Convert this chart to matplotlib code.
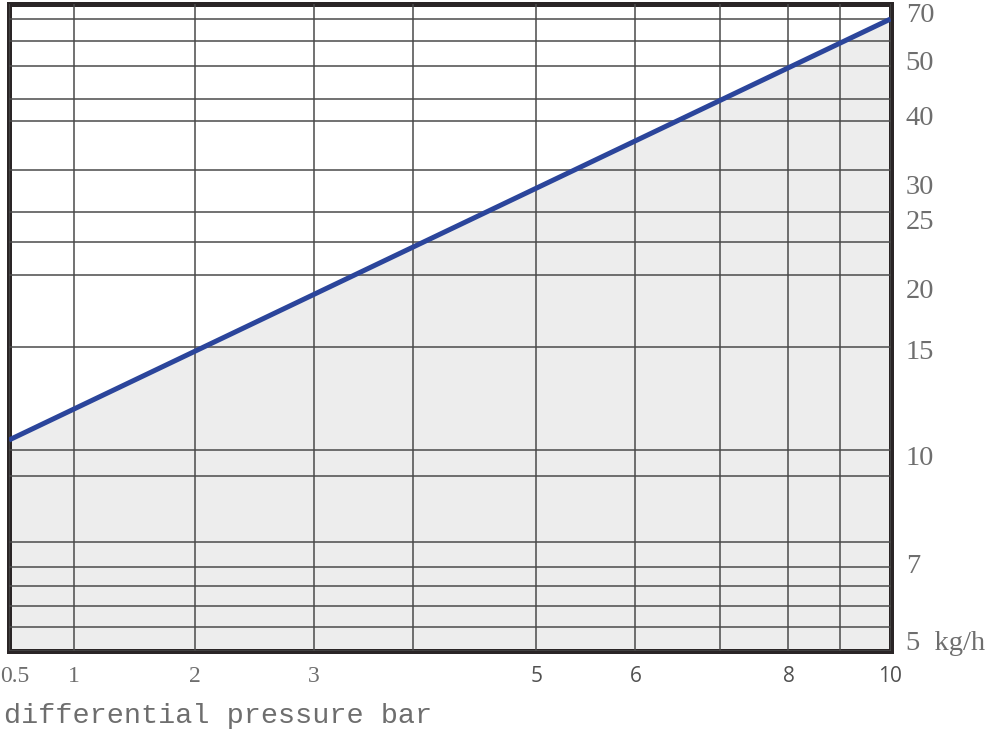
import numpy as np
import matplotlib
matplotlib.use('Agg')
import matplotlib.pyplot as plt
import matplotlib.transforms as mtransforms

# valores do grafico (vazao x pressao diferencial)
press = [0.5, 10]
vazao = [10.5, 70]

x_labels = [0.5, 1, 2, 3, 5, 6, 8, 10]
x_minor = [4, 7, 9]
y_labels = [5, 7, 10, 15, 20, 25, 30, 40, 50, 70]
y_minor = [5.5, 6, 6.5, 7.5, 9, 22.5, 45, 60]

# escala nao uniforme do desenho original (valor -> posicao)
x_knot_val = [0.5, 1, 2, 3, 4, 5, 6, 7, 8, 9, 10]
x_knot_pos = [0, 65, 186, 305, 404, 527, 626, 711, 779, 831, 881]
y_knot_val = [5, 5.5, 6, 6.5, 7, 7.5, 9, 10, 15, 20, 22.5, 25, 30, 40, 45, 50, 60, 70, 75]
y_knot_pos = [0, 23, 44, 64, 83, 108, 174, 200, 303, 375, 408, 438, 480, 529, 551, 584, 609, 631, 646]

# deslocamento vertical dos rotulos do eixo y (px, como no desenho)
y_nudge = [10, 4, -5, -2, -13, -7, -14, 6, 6, 7]


def make_scale(vals, pos):
    def fwd(v):
        return np.interp(v, vals, pos)

    def inv(p):
        return np.interp(p, pos, vals)
    return fwd, inv


fig = plt.figure(figsize=(10, 7.34), dpi=100)
ax = fig.add_axes([0.009, 1 - 650.5 / 734, 0.8815, (650.5 - 4) / 734])

ax.set_xscale('function', functions=make_scale(x_knot_val, x_knot_pos))
ax.set_yscale('function', functions=make_scale(y_knot_val, y_knot_pos))
ax.set_xlim(0.5, 10)
ax.set_ylim(5, 75)

ax.fill_between(press, vazao, 5, color='#ededed', lw=0, zorder=1)
ax.plot(press, vazao, color='#2b459b', lw=3.6, solid_capstyle='butt', zorder=3)

ax.set_xticks(x_labels)
ax.set_xticks(x_minor, minor=True)
ax.set_yticks(y_labels)
ax.set_yticks(y_minor, minor=True)
ax.grid(which='both', color='#4a4a4a', lw=1.1)
ax.set_axisbelow(False)

ax.yaxis.tick_right()
ax.tick_params(which='both', length=0)
ax.tick_params(axis='y', pad=11)
ax.tick_params(axis='x', pad=11)

xl = ['0.5', '1', '2', '3', '5', '6', '8', '10']
ax.set_xticklabels(xl)
for i, t in enumerate(ax.get_xticklabels()):
    if i < 4:
        t.set_family('Liberation Serif')
        t.set_fontsize(17)
        t.set_color('#6e6e6e')
    else:
        t.set_family('Open Sans')
        t.set_fontsize(15)
        t.set_color('#505050')
first = ax.get_xticklabels()[0]
first.set_ha('left')
first.set_transform(first.get_transform() + mtransforms.ScaledTranslation(-9 / 100, 0, fig.dpi_scale_trans))

yl = [str(v) for v in y_labels]
yl[0] = '5  kg/h'
ax.set_yticklabels(yl, family='Liberation Serif', fontsize=20.5, color='#6e6e6e')
for t, dy in zip(ax.get_yticklabels(), y_nudge):
    t.set_transform(t.get_transform() + mtransforms.ScaledTranslation(0, dy / 100, fig.dpi_scale_trans))

for s in ax.spines.values():
    s.set_linewidth(3.6)
    s.set_color('#2a2526')

fig.text(0.004, 1 - 716 / 734, 'differential pressure bar', family='Liberation Mono',
         fontsize=20.5, color='#6e6e6e', va='center', ha='left')

fig.savefig('out.png', dpi=100)
